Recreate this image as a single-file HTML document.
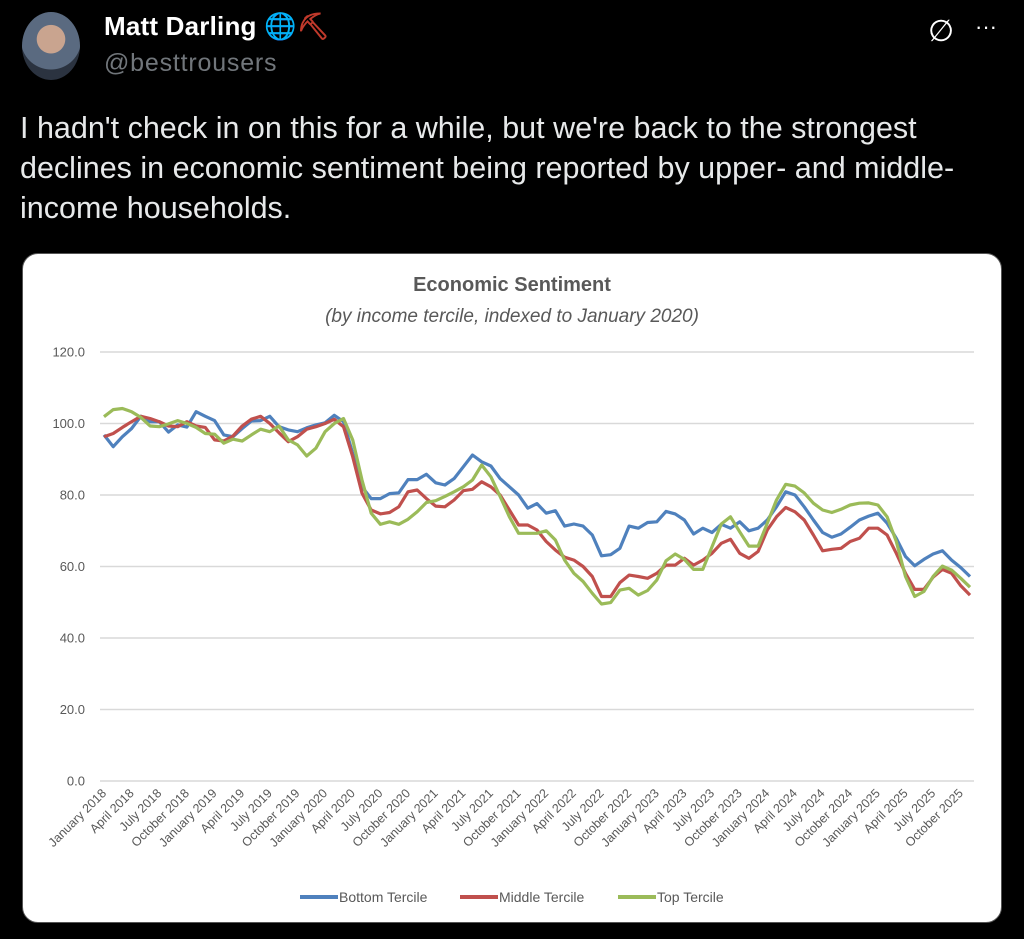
<!DOCTYPE html>
<html><head><meta charset="utf-8">
<style>
html,body{margin:0;padding:0;background:#000;width:1024px;height:939px;overflow:hidden;font-family:"Liberation Sans",sans-serif;}
.abs{position:absolute;}
</style></head>
<body>
<div class="abs" style="left:22px;top:12px;width:58px;height:68px;border-radius:50%;background:radial-gradient(circle at 50% 40%,#c9a48f 0 28%,#5a6a80 29% 60%,#2b3340 61%);"></div>
<div class="abs" style="left:104px;top:11px;color:#fff;font-weight:bold;font-size:26px;letter-spacing:0.2px;">Matt Darling <span style="color:#1d8fd6">🌐</span><span style="color:#c0392b">⛏</span></div>
<div class="abs" style="left:104px;top:49px;color:#71767b;font-size:25px;letter-spacing:0.8px;">@besttrousers</div>
<div class="abs" style="left:928px;top:14px;color:#fff;font-size:30px;">∅</div>
<div class="abs" style="left:975px;top:14px;color:#fff;font-size:22px;">···</div>
<div class="abs" style="left:20px;top:108px;width:1000px;color:#e7e9ea;font-size:30.5px;line-height:40px;white-space:nowrap;">I hadn't check in on this for a while, but we're back to the strongest<br>declines in economic sentiment being reported by upper- and middle-<br>income households.</div>
<div class="abs" style="left:22px;top:253px;width:980px;height:670px;background:#fff;border-radius:16px;border:1px solid #555;box-sizing:border-box;"></div>
<svg class="abs" style="left:0;top:0" width="1024" height="939" id="chart">
<text x="512" y="291" text-anchor="middle" font-size="20" font-weight="bold" fill="#595959">Economic Sentiment</text>
<text x="512" y="322" text-anchor="middle" font-size="19" font-style="italic" fill="#595959">(by income tercile, indexed to January 2020)</text>
<g id="grid"></g><g id="xl"></g><g id="lines"></g>
<g>
<line x1="300" y1="897" x2="338" y2="897" stroke="#4f81bd" stroke-width="4"/>
<text x="339" y="902" font-size="14" fill="#595959">Bottom Tercile</text>
<line x1="460" y1="897" x2="498" y2="897" stroke="#c0504d" stroke-width="4"/>
<text x="499" y="902" font-size="14" fill="#595959">Middle Tercile</text>
<line x1="618" y1="897" x2="656" y2="897" stroke="#9bbb59" stroke-width="4"/>
<text x="657" y="902" font-size="14" fill="#595959">Top Tercile</text>
</g>
</svg>
<script>
const yTicks=[0,20,40,60,80,100,120];
const months=["January","April","July","October"];
const bottom=[96.8,93.5,96.3,98.6,102,100.5,100.5,97.6,99.6,99,103.3,102,100.8,96.8,96.3,98.6,100.7,100.8,102,99.1,98.2,97.7,98.8,99.6,100.2,102.3,100.5,91.6,82.3,79,79,80.4,80.6,84.3,84.3,85.8,83.4,82.8,84.6,87.9,91.2,89.3,88.1,84.6,82.3,80,76.3,77.6,74.9,75.6,71.3,71.9,71.3,68.8,63,63.3,65.1,71.3,70.7,72.3,72.5,75.4,74.7,73,69.1,70.7,69.5,71.8,70.7,72.5,70,70.7,73,76.7,80.9,80,76.7,73,69.5,68.2,69.1,71,73,74.1,74.9,72.1,67.9,62.8,60.2,62,63.5,64.4,61.8,59.7,57.2];
const middle=[96.3,97.2,98.9,100.5,102,101.4,100.5,99.3,99.1,100.5,99.3,98.9,95.4,95.1,96.5,99.3,101.2,102,100,97.4,94.9,96.3,98.4,99.1,100,101.2,99.1,90.7,80.5,75.8,74.7,75.1,76.7,80.9,81.4,79,76.9,76.7,78.6,81.2,81.6,83.7,82.3,80,75.8,71.6,71.6,70.2,67,64.6,62.6,61.8,60,57.2,51.6,51.6,55.5,57.6,57.2,56.7,58.1,60.4,60.4,62.3,60.4,61.8,63.7,66.5,67.6,63.7,62.3,64.2,70.2,73.9,76.5,75.3,73,68.8,64.4,64.8,65.1,67,67.9,70.7,70.7,68.8,63.7,58.1,53.6,53.6,57,59.2,58.1,54.6,52];
const top3=[101.9,103.9,104.2,103.3,101.7,99.3,99.1,99.9,100.8,100,98.9,97.2,97,94.5,95.6,95.1,96.8,98.4,97.7,99.3,95.4,94,90.9,93.1,97.7,100,101.4,95.4,84.2,74.9,71.8,72.5,71.8,73.2,75.3,77.9,78.4,79.6,80.9,82.3,84.2,88.4,85.1,79.6,73.9,69.3,69.3,69.3,70,67.4,61.8,58.1,55.8,52.5,49.5,49.9,53.4,53.9,52,53.3,56.2,61.6,63.5,62,59.2,59.2,65.5,71.9,73.9,69.7,65.7,65.7,72.1,78.6,83,82.5,80.6,77.7,75.8,75.1,76,77.2,77.7,77.8,77.2,73.9,67,57.2,51.6,53,57.2,60.1,59,56.7,54.2];
const NS="http://www.w3.org/2000/svg";
const x=i=>104+i*(866/94);
const y=v=>781-v*3.575;
const g=document.getElementById('grid');
for(const t of yTicks){
 const l=document.createElementNS(NS,'line');
 l.setAttribute('x1',100);l.setAttribute('x2',974);l.setAttribute('y1',y(t));l.setAttribute('y2',y(t));
 l.setAttribute('stroke','#d9d9d9');l.setAttribute('stroke-width','1.5');
 
 
 g.appendChild(l);
 const tx=document.createElementNS(NS,'text');
 tx.setAttribute('x',85);tx.setAttribute('y',y(t)+4.5);tx.setAttribute('text-anchor','end');
 tx.setAttribute('font-size','13');tx.setAttribute('fill','#595959');tx.textContent=t.toFixed(1);
 
 
 g.appendChild(tx);
}
const xl=document.getElementById('xl');
for(let i=0;i<bottom.length;i+=3){
 const yr=2018+Math.floor(i/12);
 const lab=months[(i%12)/3]+" "+yr;
 const tx=document.createElementNS(NS,'text');
 const ax=x(i)+3, ay=794;
 tx.setAttribute('x',ax);tx.setAttribute('y',ay);tx.setAttribute('text-anchor','end');
 tx.setAttribute('transform',`rotate(-45 ${ax} ${ay})`);
 tx.setAttribute('font-size','12.5');tx.setAttribute('fill','#595959');tx.textContent=lab;
 
 
 xl.appendChild(tx);
}
const lines=document.getElementById('lines');
[[bottom,'#4f81bd','line-bottom-tercile'],[middle,'#c0504d','line-middle-tercile'],[top3,'#9bbb59','line-top-tercile']].forEach(([d,c,n])=>{
 const p=document.createElementNS(NS,'polyline');
 p.setAttribute('points',d.map((v,i)=>x(i).toFixed(1)+','+y(v).toFixed(1)).join(' '));
 p.setAttribute('fill','none');p.setAttribute('stroke',c);p.setAttribute('stroke-width','3.2');p.setAttribute('stroke-linejoin','round');
 
 
 lines.appendChild(p);
});
</script>
</body></html>
